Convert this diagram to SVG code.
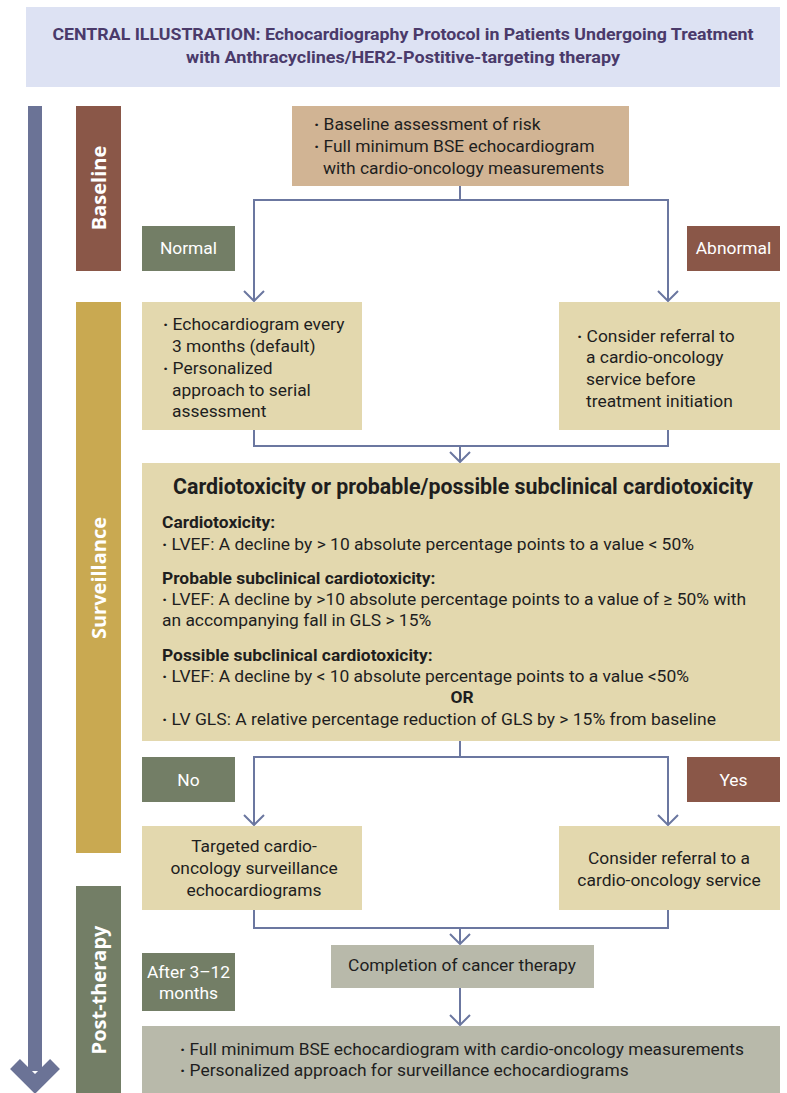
<svg xmlns="http://www.w3.org/2000/svg" width="787" height="1093" viewBox="0 0 787 1093">
<defs>
<style>
.t{font-family:Roboto,"Liberation Sans",sans-serif;font-size:17.4px;fill:#1e1e1e}
.c{text-anchor:middle}
.b{font-weight:bold}
.d{font-weight:bold}
.w{fill:#ffffff}
.v{font-family:"Open Sans","DejaVu Sans",sans-serif;font-size:20px;font-weight:bold;fill:#ffffff;text-anchor:middle;dominant-baseline:central}
.ttl{font-family:Roboto,"Liberation Sans",sans-serif;font-size:17px;font-weight:bold;fill:#4a3a6a;text-anchor:middle}
.con{fill:none;stroke:#6b77a0;stroke-width:2}
.lt{fill:#e3d8ae}
.gr{fill:#b8b9aa}
.gn{fill:#737e66}
.br{fill:#8a5748}
</style>
<marker id="ah" viewBox="0 0 12 22" refX="11" refY="11" markerWidth="12" markerHeight="22" markerUnits="userSpaceOnUse" orient="auto">
<path d="M1,1 L11,11 L1,21" fill="none" stroke="#6b77a0" stroke-width="2"/>
</marker>
</defs>
<rect width="787" height="1093" fill="#ffffff"/>

<g id="title">
<rect x="26" y="7" width="754" height="80" fill="#dde2f3"/>
<text class="ttl" x="403" y="40" textLength="701" lengthAdjust="spacingAndGlyphs">CENTRAL ILLUSTRATION: Echocardiography Protocol in Patients Undergoing Treatment</text>
<text class="ttl" x="403" y="63" textLength="434" lengthAdjust="spacingAndGlyphs">with Anthracyclines/HER2-Postitive-targeting therapy</text>
</g>

<g id="timeline-arrow">
<rect x="28" y="106" width="14" height="965" fill="#6b7396"/>
<polyline points="15,1064 35,1084 55,1064" fill="none" stroke="#6b7396" stroke-width="14" stroke-linejoin="miter"/>
</g>

<g id="phase-baseline">
<rect x="76" y="106" width="45" height="165" class="br"/>
<text class="v" transform="rotate(-90 98.5 188)" x="98.5" y="188">Baseline</text>
</g>
<g id="phase-surveillance">
<rect x="76" y="302" width="45" height="551" fill="#c9a951"/>
<text class="v" transform="rotate(-90 98.5 578)" x="98.5" y="578">Surveillance</text>
</g>
<g id="phase-posttherapy">
<rect x="76" y="886" width="45" height="207" class="gn"/>
<text class="v" transform="rotate(-90 98.5 990)" x="98.5" y="990">Post-therapy</text>
</g>

<g id="connectors">
<path class="con" d="M460,186 V200 H254 V301" marker-end="url(#ah)"/>
<path class="con" d="M460,200 H668 V301" marker-end="url(#ah)"/>
<path class="con" d="M254,430 V446 H668 V430"/>
<path class="con" d="M460,446 V462" marker-end="url(#ah)"/>
<path class="con" d="M460,741 V757 H254 V825" marker-end="url(#ah)"/>
<path class="con" d="M460,757 H668 V825" marker-end="url(#ah)"/>
<path class="con" d="M254,910 V928 H668 V910"/>
<path class="con" d="M460,928 V944" marker-end="url(#ah)"/>
<path class="con" d="M460,988 V1025" marker-end="url(#ah)"/>
</g>

<g id="baseline-box">
<rect x="292" y="106" width="337" height="80" fill="#d1b494"/>
<text class="t" x="314" y="130"><tspan class="d">·</tspan> Baseline assessment of risk</text>
<text class="t" x="314" y="152"><tspan class="d">·</tspan> Full minimum BSE echocardiogram</text>
<text class="t" x="323" y="174">with cardio-oncology measurements</text>
</g>

<g id="label-normal">
<rect x="142" y="226" width="93" height="45" class="gn"/>
<text class="t c w" x="188.5" y="254">Normal</text>
</g>
<g id="label-abnormal">
<rect x="687" y="226" width="93" height="45" class="br"/>
<text class="t c w" x="733.5" y="254">Abnormal</text>
</g>

<g id="normal-box">
<rect x="142" y="302" width="220" height="128" class="lt"/>
<text class="t" x="163" y="330"><tspan class="d">·</tspan> Echocardiogram every</text>
<text class="t" x="172" y="352">3 months (default)</text>
<text class="t" x="163" y="374"><tspan class="d">·</tspan> Personalized</text>
<text class="t" x="172" y="396">approach to serial</text>
<text class="t" x="172" y="417">assessment</text>
</g>

<g id="abnormal-box">
<rect x="559" y="302" width="221" height="128" class="lt"/>
<text class="t" x="577" y="342"><tspan class="d">·</tspan> Consider referral to</text>
<text class="t" x="586" y="363">a cardio-oncology</text>
<text class="t" x="586" y="385">service before</text>
<text class="t" x="586" y="407">treatment initiation</text>
</g>

<g id="criteria-box">
<rect x="142" y="463" width="638" height="278" class="lt"/>
<text class="t b" x="173" y="494" style="font-size:21.3px" textLength="580" lengthAdjust="spacingAndGlyphs">Cardiotoxicity or probable/possible subclinical cardiotoxicity</text>
<text class="t b" x="162" y="528">Cardiotoxicity:</text>
<text class="t" x="162" y="550" textLength="532" lengthAdjust="spacingAndGlyphs"><tspan class="d">·</tspan> LVEF: A decline by &gt; 10 absolute percentage points to a value &lt; 50%</text>
<text class="t b" x="162" y="584">Probable subclinical cardiotoxicity:</text>
<text class="t" x="162" y="605" textLength="584" lengthAdjust="spacingAndGlyphs"><tspan class="d">·</tspan> LVEF: A decline by &gt;10 absolute percentage points to a value of ≥ 50% with</text>
<text class="t" x="162" y="626">an accompanying fall in GLS &gt; 15%</text>
<text class="t b" x="162" y="661">Possible subclinical cardiotoxicity:</text>
<text class="t" x="162" y="682" textLength="527" lengthAdjust="spacingAndGlyphs"><tspan class="d">·</tspan> LVEF: A decline by &lt; 10 absolute percentage points to a value &lt;50%</text>
<text class="t b c" x="462" y="703">OR</text>
<text class="t" x="162" y="725" textLength="554" lengthAdjust="spacingAndGlyphs"><tspan class="d">·</tspan> LV GLS: A relative percentage reduction of GLS by &gt; 15% from baseline</text>
</g>

<g id="label-no">
<rect x="142" y="757" width="93" height="45" class="gn"/>
<text class="t c w" x="188.5" y="786">No</text>
</g>
<g id="label-yes">
<rect x="687" y="757" width="93" height="45" class="br"/>
<text class="t c w" x="733.5" y="786">Yes</text>
</g>

<g id="targeted-box">
<rect x="142" y="826" width="220" height="84" class="lt"/>
<text class="t c" x="254" y="852">Targeted cardio-</text>
<text class="t c" x="254" y="874">oncology surveillance</text>
<text class="t c" x="254" y="896">echocardiograms</text>
</g>

<g id="referral-box">
<rect x="559" y="826" width="221" height="84" class="lt"/>
<text class="t c" x="669" y="864">Consider referral to a</text>
<text class="t c" x="669" y="886">cardio-oncology service</text>
</g>

<g id="completion-box">
<rect x="331" y="945" width="263" height="43" class="gr"/>
<text class="t c" x="462" y="971">Completion of cancer therapy</text>
</g>

<g id="label-after">
<rect x="142" y="953" width="93" height="58" class="gn"/>
<text class="t c w" x="188.5" y="978">After 3–12</text>
<text class="t c w" x="188.5" y="999">months</text>
</g>

<g id="final-box">
<rect x="142" y="1026" width="638" height="67" class="gr"/>
<text class="t" x="180" y="1055" textLength="564" lengthAdjust="spacingAndGlyphs"><tspan class="d">·</tspan> Full minimum BSE echocardiogram with cardio-oncology measurements</text>
<text class="t" x="180" y="1076"><tspan class="d">·</tspan> Personalized approach for surveillance echocardiograms</text>
</g>
</svg>
